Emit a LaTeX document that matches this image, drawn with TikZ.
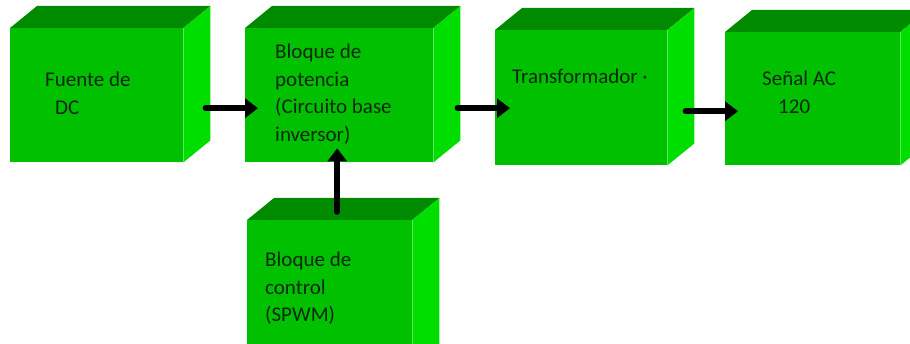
\documentclass[tikz,border=0pt]{standalone}
\usepackage{fontspec}
\setmainfont{Carlito}
\usetikzlibrary{arrows.meta}
\definecolor{frente}{RGB}{0,192,0}
\definecolor{tapa}{RGB}{0,138,0}
\definecolor{lado}{RGB}{0,222,0}
\definecolor{letra}{RGB}{12,40,12}
\tikzset{
  caja/.style={fill=frente,inner sep=0pt,anchor=north west},
  texto/.style={anchor=north west,inner sep=0pt,align=left,text=letra,font=\fontsize{21}{27.5}\selectfont},
  flecha/.style={line width=5.5pt,line cap=round,-{Triangle[length=13pt,width=19pt]}}
}
\begin{document}
\begin{tikzpicture}[x=1pt,y=-1pt]
    \useasboundingbox (0,0) rectangle (910,344);
    \clip (0,0) rectangle (910,344);
    % bloques
    \node[caja,minimum width=173pt,minimum height=134pt] (F) at (10,28) {};
    \node[caja,minimum width=188pt,minimum height=134pt] (P) at (245,28) {};
    \node[caja,minimum width=172pt,minimum height=135pt] (T) at (495,30) {};
    \node[caja,minimum width=175pt,minimum height=133pt] (S) at (725,32) {};
    \node[caja,minimum width=165pt,minimum height=160pt] (C) at (247,220) {};
    \foreach \b in {F,P,T,S,C}{
        \fill[tapa] (\b.north west) -- ++(27,-22) -- ([shift={(27,-22)}]\b.north east) -- (\b.north east) -- cycle;
        \fill[lado] (\b.north east) -- ++(27,-22) -- ([shift={(27,-22)}]\b.south east) -- (\b.south east) -- cycle;
    }
    % textos
    \node[texto] (f1) at (45,72) {Fuente de\\\hspace{10pt}DC};
    \node[texto] (p1) at (275,44) {Bloque de\\potencia\\(Circuito base\\inversor)};
    \node[texto] (t1) at (512,69) {Transformador ·};
    \node[texto] (s1) at (762,71) {Señal AC\\\hspace{16pt}120};
    \node[texto] (c1) at (265,252) {Bloque de\\control\\(SPWM)};
    % flechas
    \draw[flecha] ([shift={(22,13)}]F.east) -- ([shift={(13,13)}]P.west);
    \draw[flecha] ([shift={(24,13)}]P.east) -- ([shift={(15,10.5)}]T.west);
    \draw[flecha] ([shift={(18,13.5)}]T.east) -- ([shift={(13,12.5)}]S.west);
    \draw[flecha] ([shift={(7.5,-8)}]C.north) -- ([shift={(-2,-14)}]P.south);
\end{tikzpicture}
\end{document}
